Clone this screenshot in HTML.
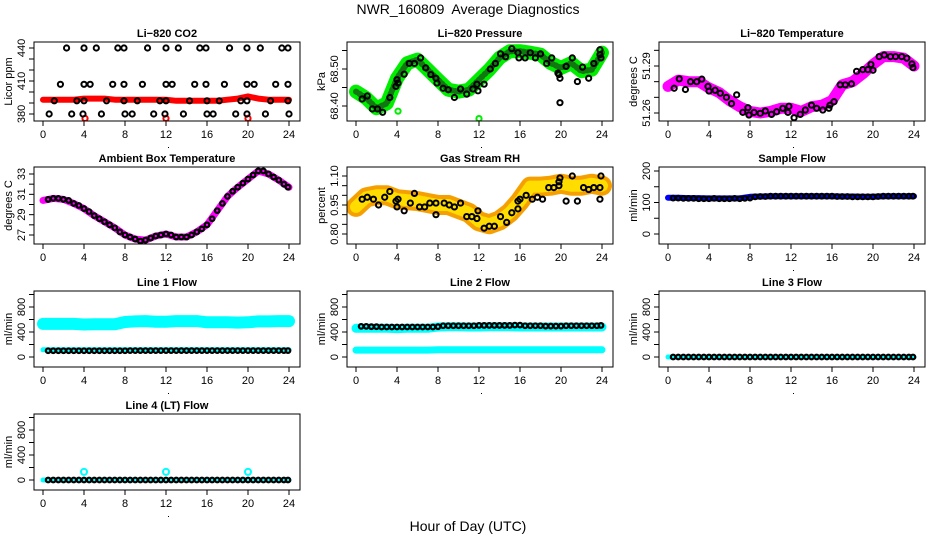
<!DOCTYPE html>
<html><head><meta charset="utf-8"><style>
html,body{margin:0;padding:0;background:#fff;}
svg{display:block;font-family:"Liberation Sans",Arial,sans-serif;}
.t{font-size:11px;font-weight:bold;text-anchor:middle;}
.tk{font-size:11px;text-anchor:middle;}
</style></head><body>
<svg id="chart" width="936" height="540" viewBox="0 0 936 540" xmlns="http://www.w3.org/2000/svg">
<rect width="936" height="540" fill="#fff"/>
<text x="468" y="14" text-anchor="middle" font-size="14" style="white-space:pre">NWR_160809  Average Diagnostics</text>
<text x="468" y="531" text-anchor="middle" font-size="14">Hour of Day (UTC)</text>
</svg>
<script>
// ---- data ----
const hourly = [0,1,2,3,4,5,6,7,8,9,10,11,12,13,14,15,16,17,18,19,20,21,22,23,24];
const co2Band = [393,393,393,393,394,394,394,393,393,393,393,393,393,392,392,392,392,392,393,394,396,394,393,393,393];
const co2H440 = [2.3,4.0,5.2,7.3,7.9,10.2,12.0,13.2,15.3,15.9,18.2,19.9,21.2,23.3,23.9];
const co2H407 = [1.7,4.0,4.6,6.8,7.9,9.7,12.0,12.6,14.8,15.9,17.7,19.9,20.6,22.7,23.9];
const co2H392 = [1.1,3.3,4.0,6.2,7.9,9.2,11.4,12.0,14.3,16.0,17.2,19.3,19.9,22.2,23.9];
const co2H380 = [0.6,2.8,3.9,5.7,8.0,8.7,10.8,11.9,13.7,16.0,16.6,18.8,19.9,21.7,24.0];
const co2RedLowH = [4.1,12.0,20.0];
const co2RedLowV = [376,376,376];
const presBand = [68.439,68.421,68.394,68.407,68.475,68.516,68.525,68.498,68.471,68.444,68.439,68.444,68.471,68.498,68.530,68.548,68.548,68.544,68.539,68.516,68.503,68.516,68.494,68.498,68.544];
const presBlackH = [0.6,1.1,1.6,2.1,2.6,3.3,3.9,4.0,4.1,4.7,5.2,5.7,6.3,6.8,7.3,7.8,7.9,8.5,9.0,9.6,10.2,10.8,11.4,11.8,11.9,12.5,13.1,13.6,14.1,14.6,15.2,15.8,15.9,16.5,17.0,17.5,18.0,18.6,19.1,19.7,19.8,19.9,19.9,20.5,21.1,21.6,22.1,22.7,23.2,23.8,23.8,23.9];
const presBlackV = [68.419,68.427,68.392,68.392,68.383,68.423,68.453,68.471,68.462,68.486,68.515,68.515,68.530,68.503,68.485,68.475,68.462,68.448,68.444,68.423,68.446,68.432,68.446,68.459,68.441,68.459,68.500,68.515,68.541,68.533,68.555,68.544,68.530,68.530,68.544,68.530,68.541,68.515,68.530,68.489,68.485,68.409,68.475,68.507,68.530,68.466,68.505,68.475,68.515,68.552,68.539,68.530];
const presGreenOutH = [4.1,12.0];
const presGreenOutV = [68.386,68.366];
const tempBand = [51.277,51.281,51.280,51.280,51.276,51.273,51.268,51.264,51.261,51.260,51.261,51.263,51.263,51.261,51.264,51.265,51.268,51.278,51.280,51.285,51.291,51.296,51.296,51.295,51.290];
const tempBlackH = [0.6,1.1,1.7,2.2,2.8,3.3,3.9,4.0,4.6,5.1,5.7,6.2,6.7,7.3,7.8,7.9,8.4,9.0,9.5,10.1,10.6,11.2,11.7,11.8,12.3,12.9,13.4,14.0,14.5,15.1,15.7,15.8,16.2,16.8,17.3,17.9,18.4,19.0,19.5,19.8,20.0,20.6,21.1,21.7,22.2,22.8,23.3,23.8,23.9];
const tempBlackV = [51.2758,51.2818,51.275,51.280,51.280,51.2816,51.277,51.274,51.2745,51.2726,51.270,51.266,51.2716,51.2604,51.2634,51.2587,51.2604,51.2598,51.2613,51.2591,51.2608,51.263,51.2604,51.2643,51.257,51.2591,51.2619,51.265,51.263,51.2619,51.263,51.265,51.2672,51.278,51.278,51.2786,51.2866,51.2877,51.2877,51.291,51.2873,51.296,51.297,51.296,51.296,51.296,51.295,51.2913,51.289];
const ambBand = [30.4,30.6,30.5,30.1,29.6,28.9,28.3,27.7,27.0,26.6,26.5,26.9,27.1,26.8,26.8,27.3,28.0,29.4,30.8,31.7,32.5,33.3,33.0,32.4,31.7];
const ambBlackH = [0.5,1,1.5,2,2.5,3,3.5,4,4.5,5,5.5,6,6.5,7,7.5,8,8.5,9,9.5,10,10.5,11,11.5,12,12.5,13,13.5,14,14.5,15,15.5,16,16.5,17,17.5,18,18.5,19,19.5,20,20.5,21,21.5,22,22.5,23,23.5,23.9];
const ambBlackV = [30.5,30.6,30.6,30.5,30.4,30.1,29.9,29.6,29.3,28.9,28.6,28.3,28.0,27.7,27.3,27.0,26.8,26.6,26.4,26.5,26.7,26.9,27.0,27.1,27.0,26.8,26.8,26.8,27.0,27.3,27.6,28.0,28.6,29.4,30.1,30.8,31.3,31.7,32.1,32.5,32.9,33.3,33.3,33.0,32.7,32.4,32.0,31.7];
const rhBand = [0.94,0.99,1.00,1.00,0.98,0.975,0.97,0.96,0.95,0.95,0.93,0.91,0.865,0.85,0.87,0.91,0.97,1.045,1.045,1.05,1.06,1.05,1.05,1.06,1.05];
const rhBlackH = [0.6,1.1,1.7,2.2,2.8,3.3,3.9,4.0,4.1,4.7,5.3,5.7,6.2,6.7,7.2,7.8,7.8,8.6,9.1,9.6,10.2,10.8,11.3,11.8,11.9,12.5,13.0,13.5,14.1,14.7,15.2,15.8,15.8,16.0,16.6,17.2,17.7,18.2,18.8,19.3,19.8,19.8,19.9,20.5,21.1,21.6,22.2,22.7,23.2,23.8,23.8,23.9];
const rhBlackV = [0.98,0.99,0.98,0.95,0.99,1.02,0.97,0.94,0.98,0.92,0.96,1.01,0.94,0.94,0.96,0.90,0.96,0.96,0.95,0.94,0.96,0.89,0.89,0.88,0.92,0.83,0.84,0.84,0.89,0.86,0.91,0.93,0.97,0.98,1.00,0.98,0.99,0.98,1.04,1.04,1.05,1.07,1.09,0.97,1.10,0.97,1.04,1.03,1.04,1.04,0.98,1.10];
const halfH = [0.5,1,1.5,2,2.5,3,3.5,4,4.5,5,5.5,6,6.5,7,7.5,8,8.5,9,9.5,10,10.5,11,11.5,12,12.5,13,13.5,14,14.5,15,15.5,16,16.5,17,17.5,18,18.5,19,19.5,20,20.5,21,21.5,22,22.5,23,23.5,23.9];
const sampleBand = [115,115,114,114,113,113,113,113,118,119,120,120,120,120,120,120,120,119,119,118,118,120,120,120,120];
const sampleBlack = [114,114,113,113,113,112,112,112,113,112,112,112,113,112,113,114,118,119,119,120,120,120,120,120,120,120,120,120,120,120,120,120,119,119,119,118,118,118,118,118,119,120,120,120,120,120,120,120];
const line1Cyan = [530,530,530,530,520,525,525,525,560,570,575,565,565,575,575,575,555,555,555,550,555,570,570,575,575];
const line1CyanLow = [115,115,115,115,115,115,115,115,115,115,115,115,115,115,115,115,115,115,115,115,115,115,115,115,115];
const line1Black = [100,100,100,100,100,100,100,100,100,100,100,100,100,100,100,100,102,102,102,102,102,102,102,102,102,102,102,102,102,102,102,102,102,102,102,102,102,102,102,102,102,102,102,102,102,102,102,102];
const line2Cyan = [460,460,460,460,455,460,460,460,480,485,485,480,480,485,485,485,480,480,480,480,480,480,480,480,480];
const line2CyanLow = [110,110,110,110,110,110,110,110,115,115,115,115,115,115,115,115,115,115,115,115,115,115,115,115,115];
const line2Black = [490,490,485,485,480,480,480,480,480,480,480,480,480,480,480,485,500,500,500,500,500,500,500,505,505,505,505,505,505,505,510,510,500,500,500,500,495,495,495,495,500,500,500,500,500,500,500,505];
const line3Cyan = [0,0,0,0,0,0,0,0,0,0,0,0,0,0,0,0,0,0,0,0,0,0,0,0,0];
const line3Black = [0,0,0,0,0,0,0,0,0,0,0,0,0,0,0,0,0,0,0,0,0,0,0,0,0,0,0,0,0,0,0,0,0,0,0,0,0,0,0,0,0,0,0,0,0,0,0,0];
const line4Cyan = [0,0,0,0,0,0,0,0,0,0,0,0,0,0,0,0,0,0,0,0,0,0,0,0,0];
const line4Black = [0,0,0,0,0,0,0,0,0,0,0,0,0,0,0,0,0,0,0,0,0,0,0,0,0,0,0,0,0,0,0,0,0,0,0,0,0,0,0,0,0,0,0,0,0,0,0,0];
const line4OutH = [4.0,12.0,20.0];
const line4OutV = [130,130,130];
const xTicks = [0,4,8,12,16,20,24];

// ---- drawing ----
const svg = document.getElementById('chart');
const NS = 'http://www.w3.org/2000/svg';
function mk(tag, attrs, parent){const e=document.createElementNS(NS,tag);for(const k in attrs)e.setAttribute(k,attrs[k]);(parent||svg).appendChild(e);return e;}
const colLeft=[34,347,659], rowTop=[42,167,291,414], rowBot=[121,244,367,490], W=266;

function panel(name,title,col,row,ylab,v1,y1,v2,y2,ticks,labels){
  const g=mk('g',{});
  
  
  const L=colLeft[col],T=rowTop[row],B=rowBot[row];
  const xs=h=>L+9+h*(246/24);
  const ys=v=>y1+(v-v1)*(y2-y1)/(v2-v1);
  const clipId='c'+col+row;
  const cp=mk('clipPath',{id:clipId},g);mk('rect',{x:L,y:T,width:W,height:B-T},cp);
  const plot=mk('g',{'clip-path':'url(#'+clipId+')'},g);
  const box=mk('rect',{x:L,y:T,width:W,height:B-T,fill:'none',stroke:'#000','stroke-width':1},g);
  
  
  const tt=mk('text',{x:L+W/2,y:T-5,class:'t'},g);tt.textContent=title;
  
  
  xTicks.forEach(h=>{mk('line',{x1:xs(h),x2:xs(h),y1:B,y2:B+5,stroke:'#000'},g);
    const t=mk('text',{x:xs(h),y:B+17,class:'tk'},g);t.textContent=h;
    
    });
  mk('rect',{x:xs(12)+2,y:B+26,width:1,height:1,fill:'#000'},g);
  ticks.forEach(v=>{const y=ys(v);mk('line',{x1:L-5,x2:L,y1:y,y2:y,stroke:'#000'},g);});
  labels.forEach(v=>{const y=ys(v);const t=mk('text',{x:0,y:0,class:'tk',transform:'translate('+(L-9)+','+y+') rotate(-90)'},g);
    t.textContent=(v%1!==0)?v.toFixed(2):v;
    
    });
  const yl=mk('text',{x:0,y:0,'font-size':11,'text-anchor':'middle',transform:'translate('+(L-22)+','+((T+B)/2)+') rotate(-90)'},g);
  yl.textContent=ylab;
  
  
  return {g:plot,xs,ys};
}
function band(p,name,hs,vs,color,w,dash){
  const d=hs.map((h,i)=>(i?'L':'M')+p.xs(h).toFixed(1)+','+p.ys(vs[i]).toFixed(1)).join(' ');
  const at={d:d,fill:'none',stroke:color,'stroke-width':w,'stroke-linecap':'round','stroke-linejoin':'round'};
  if(dash)at['stroke-dasharray']=dash;
  const e=mk('path',at,p.g);
  
  
}
function pts(p,name,hs,vs,color,r,sw){
  hs.forEach((h,i)=>{const c=mk('circle',{cx:p.xs(h),cy:p.ys(vs[i]),r:r||2.6,fill:'none',stroke:color,'stroke-width':sw||2},p.g);
    
    });
}
function constArr(v,n){const a=[];for(let i=0;i<n;i++)a.push(v);return a;}

// CO2
let p=panel('li820-co2','Li−820 CO2',0,0,'Licor ppm',380,114,440,48,[380,390,400,410,420,430,440],[380,410,440]);
band(p,'co2-red-band',hourly,co2Band,'#ff0000',6);
pts(p,'co2-red-point',co2RedLowH,co2RedLowV,'#ff0000');
pts(p,'co2-black-point',co2H440,constArr(440,co2H440.length),'#000');
pts(p,'co2-black-point',co2H407,constArr(407,co2H407.length),'#000');
pts(p,'co2-black-point',co2H392,constArr(392,co2H392.length),'#000');
pts(p,'co2-black-point',co2H380,constArr(380,co2H380.length),'#000');
// Pressure
p=panel('li820-pressure','Li−820 Pressure',1,0,'kPa',68.40,106,68.50,69,[68.40,68.45,68.50,68.55],[68.40,68.50]);
band(p,'pressure-green-band',hourly,presBand,'#00ee00',14);
band(p,'pressure-green-band-dots',hourly,presBand,'#117711',6,'1 3');
pts(p,'pressure-green-outlier',presGreenOutH,presGreenOutV,'#00ee00');
pts(p,'pressure-black-point',presBlackH,presBlackV,'#000');
// Temperature
p=panel('li820-temperature','Li−820 Temperature',2,0,'degrees C',51.26,113,51.29,66,[51.26,51.27,51.28,51.29,51.30],[51.26,51.29]);
band(p,'li820-temp-magenta-band',hourly,tempBand,'#ff00ff',11);
pts(p,'li820-temp-black-point',tempBlackH,tempBlackV,'#000');
// Ambient
p=panel('ambient-box-temperature','Ambient Box Temperature',0,1,'degrees C',27,235,33,174,[27,28,29,30,31,32,33],[27,29,31,33]);
band(p,'ambient-magenta-band',hourly,ambBand,'#ff00ff',7);
pts(p,'ambient-black-point',ambBlackH,ambBlackV,'#000',2.3,2.2);
// RH
p=panel('gas-stream-rh','Gas Stream RH',1,1,'percent',0.80,234,1.10,176,[0.80,0.85,0.90,0.95,1.00,1.05,1.10],[0.80,0.95,1.10]);
band(p,'rh-orange-band',hourly,rhBand,'#f5a000',20);
band(p,'rh-yellow-band',hourly,rhBand,'#ffdd00',12,'2 2');
pts(p,'rh-black-point',rhBlackH,rhBlackV,'#000');
// Sample flow
p=panel('sample-flow','Sample Flow',2,1,'ml/min',0,234,200,171,[0,50,100,150,200],[0,100,200]);
band(p,'sample-blue-band',hourly,sampleBand,'#0000ff',6);
pts(p,'sample-black-point',halfH,sampleBlack,'#000',2.3,2.2);
// Line 1
p=panel('line1-flow','Line 1 Flow',0,2,'ml/min',0,357,800,307,[0,200,400,600,800,1000],[0,400,800]);
band(p,'line1-cyan-band',hourly,line1Cyan,'#00ffff',12);
band(p,'line1-cyan-low-band',hourly,line1CyanLow,'#00ffff',5);
pts(p,'line1-black-point',halfH,line1Black,'#000',2.3,2.2);
// Line 2
p=panel('line2-flow','Line 2 Flow',1,2,'ml/min',0,357,800,307,[0,200,400,600,800,1000],[0,400,800]);
band(p,'line2-cyan-band',hourly,line2Cyan,'#00ffff',9);
band(p,'line2-cyan-low-band',hourly,line2CyanLow,'#00ffff',7);
pts(p,'line2-black-point',halfH,line2Black,'#000',2.3,2.2);
// Line 3
p=panel('line3-flow','Line 3 Flow',2,2,'ml/min',0,357,800,307,[0,200,400,600,800,1000],[0,400,800]);
band(p,'line3-cyan-band',hourly,line3Cyan,'#00ffff',5);
pts(p,'line3-black-point',halfH,line3Black,'#000',2.3,2.2);
// Line 4
p=panel('line4-flow','Line 4 (LT) Flow',0,3,'ml/min',0,480,800,430,[0,200,400,600,800,1000],[0,400,800]);
band(p,'line4-cyan-band',hourly,line4Cyan,'#00ffff',5);
pts(p,'line4-black-point',halfH,line4Black,'#000',2.3,2.2);
pts(p,'line4-cyan-outlier',line4OutH,line4OutV,'#00ffff',3,2);
</script>
</body></html>
